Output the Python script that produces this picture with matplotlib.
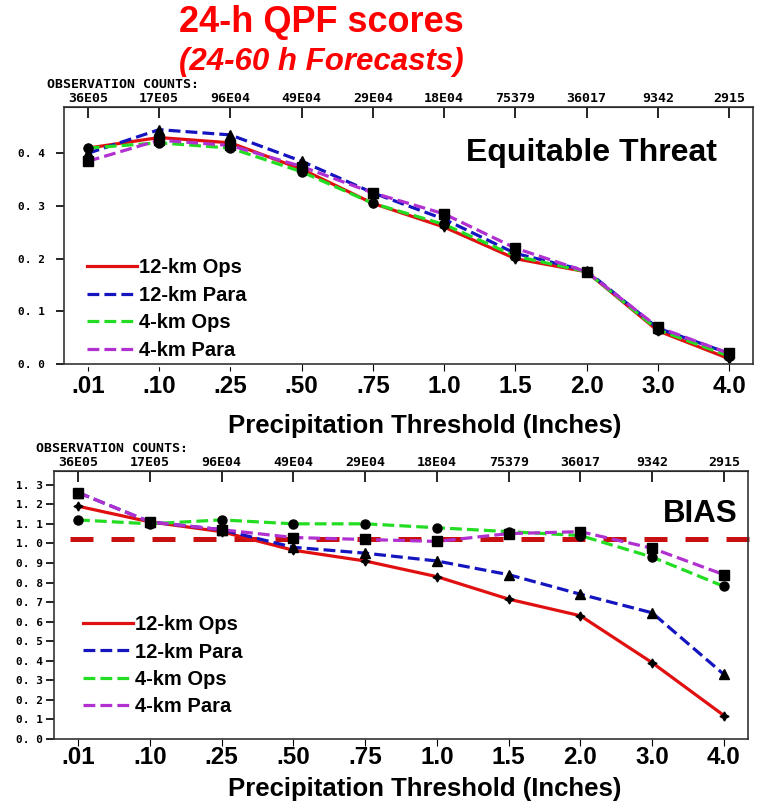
import matplotlib
matplotlib.use('Agg')
import matplotlib.pyplot as plt
from matplotlib.ticker import FixedLocator

# thresholds (inches) and observation counts along the top
thresholds = ['.01', '.10', '.25', '.50', '.75', '1.0', '1.5', '2.0', '3.0', '4.0']
obs_counts = ['36E05', '17E05', '96E04', '49E04', '29E04', '18E04', '75379', '36017', '9342', '2915']

# equitable threat scores
ets_12ops = [0.41, 0.43, 0.42, 0.37, 0.305, 0.26, 0.20, 0.175, 0.063, 0.01]
ets_12para = [0.40, 0.445, 0.435, 0.385, 0.325, 0.275, 0.21, 0.177, 0.068, 0.02]
ets_4ops = [0.41, 0.42, 0.41, 0.365, 0.305, 0.265, 0.205, 0.175, 0.065, 0.015]
ets_4para = [0.385, 0.425, 0.415, 0.375, 0.325, 0.285, 0.22, 0.175, 0.07, 0.02]

# bias scores
bias_12ops = [1.19, 1.11, 1.06, 0.965, 0.91, 0.83, 0.715, 0.63, 0.39, 0.12]
bias_12para = [1.26, 1.11, 1.07, 0.98, 0.95, 0.91, 0.84, 0.74, 0.645, 0.33]
bias_4ops = [1.12, 1.10, 1.12, 1.10, 1.10, 1.08, 1.06, 1.04, 0.93, 0.78]
bias_4para = [1.26, 1.11, 1.07, 1.03, 1.02, 1.01, 1.05, 1.06, 0.975, 0.84]
bias_ref = 1.02

labels = ['12-km Ops', '12-km Para', '4-km Ops', '4-km Para']
colors = ['#e01010', '#1515c0', '#22dd22', '#b030d0']
styles = ['-', '--', '--', '--']
markers = [(4, 1, 0), '^', 'o', 's']

SANS = ['Liberation Sans', 'DejaVu Sans']
MONO = ['DejaVu Sans Mono']

fig = plt.figure(figsize=(7.64, 8.09), dpi=100)


def draw_panel(rect, data, ymax, yticks, grid, legend_anchor, hdr_x, xpad, ypad):
    ax = fig.add_axes(rect)
    x = list(range(len(thresholds)))
    for vals, lab, c, ls, m in zip(data, labels, colors, styles, markers):
        ax.plot(x, vals, ls=ls, color=c, lw=2.3, label=lab, zorder=3)
        ax.plot(x, vals, ls='none', marker=m, color='k', ms=6.5, zorder=4)
    ax.set_xlim(-0.335, 9.335)
    ax.set_ylim(0, ymax)
    ax.set_xticks(x)
    ax.set_xticklabels(thresholds, fontsize=17.5, fontweight='bold', family=SANS)
    ax.tick_params(axis='x', direction='out', length=5, pad=xpad)
    ax.set_yticks(yticks)
    ax.set_yticklabels([('%.1f' % v).replace('.', '. ') for v in yticks],
                       fontsize=8, fontweight='bold', family=MONO)
    ax.tick_params(axis='y', direction='out', length=6, width=1.2, pad=ypad)
    ax.yaxis.set_minor_locator(FixedLocator(grid))
    ax.tick_params(axis='y', which='minor', length=0)
    ax.grid(True, which='minor', axis='y', color='#222222', lw=1.0)
    for s in ax.spines.values():
        s.set_linewidth(1.2)
        s.set_color('#333333')
        s.set_zorder(6)
    top = ax.secondary_xaxis('top')
    top.set_xticks(x)
    top.set_xticklabels(obs_counts, fontsize=9.5, fontweight='bold', family=MONO)
    top.tick_params(direction='in', length=8, width=1.2, pad=1.5)
    # header above counts
    pos = ax.get_position()
    fig.text(hdr_x / 764, pos.y1 + 22 / 809, 'OBSERVATION COUNTS:', fontsize=9.5,
             fontweight='bold', family=MONO, va='center', ha='left')
    leg = ax.legend(loc='upper left', bbox_to_anchor=legend_anchor,
                    prop={'family': SANS, 'weight': 'bold', 'size': 14.5},
                    handlelength=2.5, handletextpad=0.1, labelspacing=0.42,
                    borderpad=0.3, borderaxespad=0, frameon=True, fancybox=False,
                    edgecolor='white', facecolor='white', framealpha=1)
    leg.set_zorder(5)
    return ax


ax1 = draw_panel([64 / 764, 1 - 364 / 809, 689 / 764, 257 / 809],
                 [ets_12ops, ets_12para, ets_4ops, ets_4para], 0.488,
                 [0.0, 0.1, 0.2, 0.3, 0.4], [0.1, 0.2, 0.3, 0.4],
                 (0.024, 0.435), 47, 3, 8)
ax1.text(0.948, 0.82, 'Equitable Threat', transform=ax1.transAxes, fontsize=23,
         fontweight='bold', family=SANS, ha='right', va='center', zorder=6)

ax2 = draw_panel([54 / 764, 1 - 739 / 809, 694 / 764, 268 / 809],
                 [bias_12ops, bias_12para, bias_4ops, bias_4para], 1.37,
                 [round(0.1 * i, 1) for i in range(14)],
                 [0.2, 0.4, 0.6, 0.8, 1.0, 1.2],
                 (0.033, 0.485), 36, 0, 2)
ax2.plot([-0.11, 9.6], [bias_ref, bias_ref], color='#c81010', lw=3.6,
         dashes=(4.6, 3.6), clip_on=False, zorder=2)
ax2.text(0.985, 0.84, 'BIAS', transform=ax2.transAxes, fontsize=22.5,
         fontweight='bold', family=SANS, ha='right', va='center', zorder=6)

# titles and axis captions
fig.text(321 / 764, 1 - 23 / 809, '24-h QPF scores', color='#ff0000', fontsize=26,
         fontweight='bold', family=SANS, ha='center', va='center')
fig.text(321 / 764, 1 - 62 / 809, '(24-60 h Forecasts)', color='#ff0000', fontsize=22.5,
         fontweight='bold', style='italic', family=SANS, ha='center', va='center')
fig.text(425 / 764, 1 - 426 / 809, 'Precipitation Threshold (Inches)', fontsize=18.5,
         fontweight='bold', family=SANS, ha='center', va='center')
fig.text(425 / 764, 1 - 789 / 809, 'Precipitation Threshold (Inches)', fontsize=18.5,
         fontweight='bold', family=SANS, ha='center', va='center')

fig.savefig('out.png', dpi=100, facecolor='white')
